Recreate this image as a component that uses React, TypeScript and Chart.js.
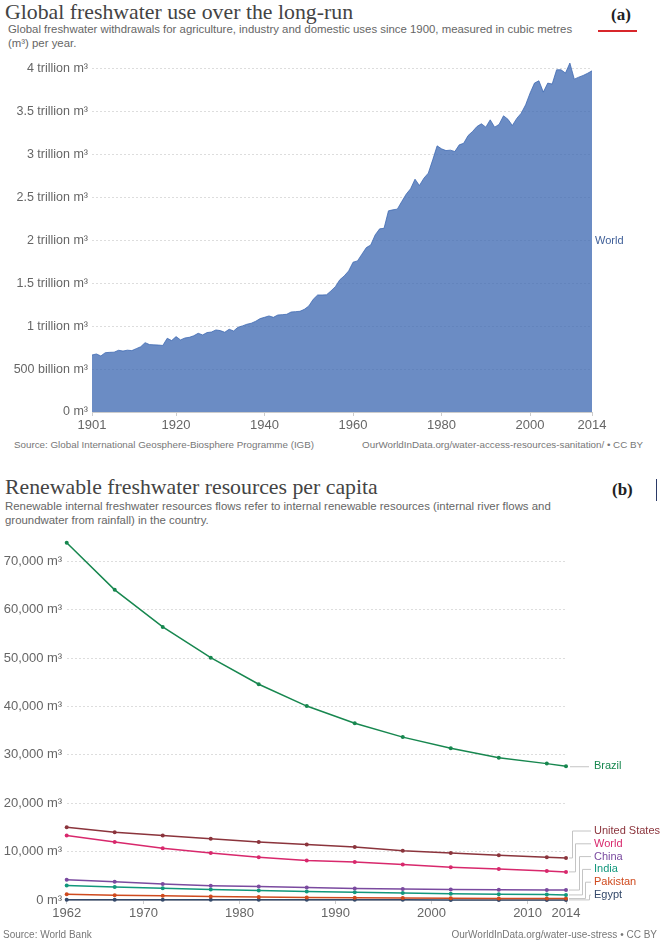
import React, { useEffect, useRef } from 'react';
import { Chart, registerables } from 'chart.js';

Chart.register(...registerables);

// ---------- Panel (a): Global freshwater withdrawals (trillion m³) ----------
const WITHDRAWAL_YEARS = [
  1901, 1902, 1903, 1904, 1905, 1906, 1907, 1908, 1909, 1910,
  1911, 1912, 1913, 1914, 1915, 1916, 1917, 1918, 1919, 1920,
  1921, 1922, 1923, 1924, 1925, 1926, 1927, 1928, 1929, 1930,
  1931, 1932, 1933, 1934, 1935, 1936, 1937, 1938, 1939, 1940,
  1941, 1942, 1943, 1944, 1945, 1946, 1947, 1948, 1949, 1950,
  1951, 1952, 1953, 1954, 1955, 1956, 1957, 1958, 1959, 1960,
  1961, 1962, 1963, 1964, 1965, 1966, 1967, 1968, 1969, 1970,
  1971, 1972, 1973, 1974, 1975, 1976, 1977, 1978, 1979, 1980,
  1981, 1982, 1983, 1984, 1985, 1986, 1987, 1988, 1989, 1990,
  1991, 1992, 1993, 1994, 1995, 1996, 1997, 1998, 1999, 2000,
  2001, 2002, 2003, 2004, 2005, 2006, 2007, 2008, 2009, 2010,
  2011, 2012, 2013, 2014,
];
const WITHDRAWAL_TRILLION_M3 = [
  0.664, 0.676, 0.653, 0.691, 0.695, 0.697, 0.719, 0.71, 0.72, 0.715,
  0.738, 0.76, 0.808, 0.785, 0.782, 0.78, 0.775, 0.859, 0.832, 0.878,
  0.84, 0.862, 0.87, 0.888, 0.917, 0.898, 0.925, 0.932, 0.956, 0.948,
  0.929, 0.964, 0.944, 0.987, 1.003, 1.022, 1.034, 1.057, 1.088, 1.103,
  1.119, 1.103, 1.13, 1.134, 1.138, 1.165, 1.169, 1.173, 1.196, 1.235,
  1.313, 1.363, 1.363, 1.365, 1.41, 1.46, 1.54, 1.585, 1.643, 1.745,
  1.76, 1.838, 1.915, 1.945, 2.063, 2.133, 2.14, 2.343, 2.355, 2.363,
  2.451, 2.537, 2.6, 2.712, 2.638, 2.723, 2.782, 2.937, 3.1, 3.065,
  3.045, 3.05, 3.034, 3.112, 3.13, 3.22, 3.267, 3.325, 3.357, 3.318,
  3.403, 3.318, 3.35, 3.45, 3.41, 3.337, 3.42, 3.48, 3.578, 3.714,
  3.831, 3.858, 3.726, 3.831, 3.82, 3.986, 3.986, 3.948, 4.064, 3.877,
  3.9, 3.92, 3.945, 3.974,
];
const WITHDRAWAL_X_TICKS = [1901, 1920, 1940, 1960, 1980, 2000, 2014];
const WITHDRAWAL_Y_TICKS = [0, 0.5, 1, 1.5, 2, 2.5, 3, 3.5, 4];
const WITHDRAWAL_SERIES_NAME = 'World';

// ---------- Panel (b): Renewable freshwater per capita (m³) ----------
const RESOURCE_YEARS = [1962, 1967, 1972, 1977, 1982, 1987, 1992, 1997, 2002, 2007, 2012, 2014];
const RESOURCE_X_TICKS = [1962, 1970, 1980, 1990, 2000, 2010, 2014];
const RESOURCE_Y_TICKS = [0, 10000, 20000, 30000, 40000, 50000, 60000, 70000];
const COUNTRY_NAMES = ['Brazil', 'United States', 'World', 'China', 'India', 'Pakistan', 'Egypt'];
const BRAZIL = [73860, 64130, 56470, 50100, 44620, 40100, 36550, 33680, 31360, 29430, 28200, 27660];
const UNITED_STATES = [15050, 14030, 13350, 12670, 11980, 11500, 10950, 10200, 9720, 9240, 8830, 8690];
const WORLD = [13350, 11980, 10680, 9720, 8830, 8150, 7870, 7330, 6780, 6430, 6020, 5810];
const CHINA = [4200, 3750, 3300, 2960, 2770, 2560, 2400, 2270, 2180, 2130, 2080, 2060];
const INDIA = [3000, 2690, 2420, 2170, 1950, 1750, 1580, 1430, 1310, 1210, 1130, 1050];
const PAKISTAN = [1170, 1005, 873, 743, 625, 524, 458, 407, 367, 335, 306, 292];
const EGYPT = [63, 56, 49, 43, 38, 33, 29, 27, 24, 22, 21, 20];
const COUNTRY_COLORS = ['#17874f', '#8b343c', '#d8286c', '#7a4a9f', '#12977c', '#cf4a1e', '#34496a'];

const SANS = 'Arial, "Liberation Sans", sans-serif';
const SERIF = '"Liberation Serif", "Times New Roman", serif';

const worldLabelPlugin = {
  id: 'worldLabel',
  afterDatasetsDraw(chart: any) {
    const { ctx, scales } = chart;
    const n = WITHDRAWAL_TRILLION_M3.length;
    const last = WITHDRAWAL_TRILLION_M3[n - 1];
    const px = scales.x.getPixelForValue(WITHDRAWAL_YEARS[n - 1]) + 3;
    const py = scales.y.getPixelForValue(last / 2);
    ctx.save();
    ctx.font = `11px ${SANS}`;
    ctx.fillStyle = '#3f5f98';
    ctx.textBaseline = 'middle';
    ctx.textAlign = 'left';
    ctx.fillText(WITHDRAWAL_SERIES_NAME, px, py);
    ctx.restore();
  },
};

const countryLabelPlugin = {
  id: 'countryLabels',
  afterDatasetsDraw(chart: any) {
    const { ctx, scales } = chart;
    const n = RESOURCE_YEARS.length;
    const xEnd = scales.x.getPixelForValue(RESOURCE_YEARS[n - 1]);
    const labelX = xEnd + 28;
    ctx.save();
    ctx.font = `11px ${SANS}`;
    ctx.textBaseline = 'middle';
    ctx.textAlign = 'left';
    ctx.lineWidth = 1;
    ctx.strokeStyle = '#c4c4c4';
    chart.data.datasets.forEach((ds: any, i: number) => {
      const yEnd = scales.y.getPixelForValue(ds.data[n - 1].y);
      if (i === 0) {
        ctx.beginPath();
        ctx.moveTo(xEnd + 4, yEnd + 0.5);
        ctx.lineTo(xEnd + 23, yEnd + 0.5);
        ctx.stroke();
        ctx.fillStyle = COUNTRY_COLORS[i];
        ctx.fillText(ds.label, labelX, yEnd);
        return;
      }
      const stackIndex = i - 1; // 0..5 top to bottom
      const bottomY = scales.y.getPixelForValue(0) - 5;
      const labelY = bottomY - (5 - stackIndex) * 12.8;
      const elbowX = Math.round(xEnd + 6 + stackIndex * 3.3) + 0.5;
      ctx.beginPath();
      ctx.moveTo(xEnd + 3, yEnd);
      ctx.lineTo(elbowX, yEnd);
      ctx.lineTo(elbowX, labelY);
      ctx.lineTo(xEnd + 25, labelY);
      ctx.stroke();
      ctx.fillStyle = COUNTRY_COLORS[i];
      ctx.fillText(ds.label, labelX, labelY);
    });
    ctx.restore();
  },
};

function WithdrawalChart() {
  const ref = useRef<HTMLCanvasElement>(null);
  useEffect(() => {
    if (!ref.current) return;
    const chart = new Chart(ref.current, {
      type: 'line',
      data: {
        datasets: [
          {
            label: WITHDRAWAL_SERIES_NAME,
            data: WITHDRAWAL_YEARS.map((yr, i) => ({ x: yr, y: WITHDRAWAL_TRILLION_M3[i] })),
            fill: 'origin',
            backgroundColor: 'rgba(58,102,176,0.75)',
            borderColor: 'rgba(58,102,176,0.75)',
            borderWidth: 1,
            pointRadius: 0,
            tension: 0,
          },
        ],
      },
      options: {
        responsive: false,
        animation: false,
        devicePixelRatio: 1,
        layout: { padding: { left: 0, right: 69, top: 60, bottom: 0 } },
        plugins: { legend: { display: false }, tooltip: { enabled: false } },
        scales: {
          x: {
            type: 'linear',
            min: 1901,
            max: 2014,
            afterBuildTicks: (s: any) => {
              s.ticks = WITHDRAWAL_X_TICKS.map((v) => ({ value: v }));
            },
            afterFit: (s: any) => {
              s.height = 48;
            },
            grid: { display: true, drawOnChartArea: false, drawTicks: true, tickLength: 4, color: '#cccccc' },
            border: { display: true, color: '#cccccc' },
            ticks: {
              color: '#666',
              font: { family: SANS, size: 13 },
              padding: 2,
              maxRotation: 0,
              autoSkip: false,
              callback: (v: any) => String(v),
            },
          },
          y: {
            min: 0,
            max: 4.1,
            afterBuildTicks: (s: any) => {
              s.ticks = WITHDRAWAL_Y_TICKS.map((v) => ({ value: v }));
            },
            afterFit: (s: any) => {
              s.width = 92;
            },
            grid: { color: '#dddddd', drawTicks: false },
            border: { display: false, dash: [2, 2] },
            ticks: {
              padding: 4,
              color: '#666',
              font: { family: SANS, size: 12.5 },
              callback: (v: any) => {
                const n = Number(v);
                if (n === 0) return '0 m³';
                if (n < 1) return `${Math.round(n * 1000)} billion m³`;
                return `${n} trillion m³`;
              },
            },
          },
        },
      },
      plugins: [worldLabelPlugin],
    } as any);
    return () => chart.destroy();
  }, []);
  return (
    <canvas
      ref={ref}
      width={661}
      height={460}
      style={{ position: 'absolute', left: 0, top: 0, width: 661, height: 460 }}
    />
  );
}

function ResourceChart() {
  const ref = useRef<HTMLCanvasElement>(null);
  useEffect(() => {
    if (!ref.current) return;
    const series = [BRAZIL, UNITED_STATES, WORLD, CHINA, INDIA, PAKISTAN, EGYPT];
    const chart = new Chart(ref.current, {
      type: 'line',
      data: {
        datasets: series.map((vals, i) => ({
          label: COUNTRY_NAMES[i],
          data: RESOURCE_YEARS.map((yr, j) => ({ x: yr, y: vals[j] })),
          borderColor: COUNTRY_COLORS[i],
          backgroundColor: COUNTRY_COLORS[i],
          pointBackgroundColor: COUNTRY_COLORS[i],
          pointBorderWidth: 0,
          pointRadius: 2,
          borderWidth: 1.5,
          tension: 0,
          fill: false,
          clip: false,
        })),
      },
      options: {
        responsive: false,
        animation: false,
        devicePixelRatio: 1,
        layout: { padding: { left: 0, right: 95, top: 9.6, bottom: 0 } },
        plugins: { legend: { display: false }, tooltip: { enabled: false } },
        scales: {
          x: {
            type: 'linear',
            min: 1962,
            max: 2014,
            afterBuildTicks: (s: any) => {
              s.ticks = RESOURCE_X_TICKS.map((v) => ({ value: v }));
            },
            afterFit: (s: any) => {
              s.height = 43;
            },
            grid: { display: true, drawOnChartArea: false, drawTicks: true, tickLength: 4, color: '#cccccc' },
            border: { display: true, color: '#cccccc' },
            ticks: {
              color: '#666',
              font: { family: SANS, size: 13 },
              padding: 2,
              maxRotation: 0,
              autoSkip: false,
              callback: (v: any) => String(v),
            },
          },
          y: {
            min: 0,
            max: 75000,
            afterBuildTicks: (s: any) => {
              s.ticks = RESOURCE_Y_TICKS.map((v) => ({ value: v }));
            },
            afterFit: (s: any) => {
              s.width = 66.7;
            },
            grid: { color: '#dddddd', drawTicks: false },
            border: { display: false, dash: [2, 2] },
            ticks: {
              padding: 4.5,
              color: '#666',
              font: { family: SANS, size: 13 },
              callback: (v: any) => `${Number(v).toLocaleString('en-US')} m³`,
            },
          },
        },
      },
      plugins: [countryLabelPlugin],
    } as any);
    return () => chart.destroy();
  }, []);
  return (
    <canvas
      ref={ref}
      width={661}
      height={418}
      style={{ position: 'absolute', left: 0, top: 525, width: 661, height: 418 }}
    />
  );
}

const abs = (style: React.CSSProperties): React.CSSProperties => ({
  position: 'absolute',
  whiteSpace: 'nowrap',
  margin: 0,
  ...style,
});

export default function App() {
  return (
    <div
      style={{
        position: 'absolute',
        left: 0,
        top: 0,
        width: 661,
        height: 943,
        background: '#fff',
        overflow: 'hidden',
        fontFamily: SANS,
      }}
    >
      {/* Panel (a) texts */}
      <div style={abs({ left: 5, top: 0, fontFamily: SERIF, fontSize: 21.8, lineHeight: '25px', color: '#444' })}>
        Global freshwater use over the long-run
      </div>
      <div style={abs({ left: 8, top: 23, fontSize: 11.4, lineHeight: '13.5px', color: '#666' })}>
        Global freshwater withdrawals for agriculture, industry and domestic uses since 1900, measured in cubic metres
        <br />
        (m³) per year.
      </div>
      <div style={abs({ left: 611, top: 5, fontFamily: SERIF, fontWeight: 'bold', fontSize: 17, lineHeight: '20px', color: '#222' })}>
        (a)
      </div>
      <div style={abs({ left: 598, top: 30, width: 39, height: 2, background: '#d8262b' })} />
      <div style={abs({ left: 14, top: 438, fontSize: 9.8, lineHeight: '14px', color: '#777' })}>
        Source: Global International Geosphere-Biosphere Programme (IGB)
      </div>
      <div style={abs({ right: 18, top: 438, fontSize: 9.8, lineHeight: '14px', color: '#777' })}>
        OurWorldInData.org/water-access-resources-sanitation/ • CC BY
      </div>
      <WithdrawalChart />

      {/* Panel (b) texts */}
      <div style={abs({ left: 5, top: 475, fontFamily: SERIF, fontSize: 21.8, lineHeight: '25px', color: '#444' })}>
        Renewable freshwater resources per capita
      </div>
      <div style={abs({ left: 5, top: 499, fontSize: 11.4, lineHeight: '14px', color: '#666' })}>
        Renewable internal freshwater resources flows refer to internal renewable resources (internal river flows and
        <br />
        groundwater from rainfall) in the country.
      </div>
      <div style={abs({ left: 612, top: 480, fontFamily: SERIF, fontWeight: 'bold', fontSize: 17, lineHeight: '20px', color: '#222' })}>
        (b)
      </div>
      <div style={abs({ left: 656, top: 479, width: 1, height: 22, background: '#2b3a67' })} />
      <ResourceChart />
      <div style={abs({ left: 3, top: 928, fontSize: 10, lineHeight: '14px', color: '#777' })}>
        Source: World Bank
      </div>
      <div style={abs({ right: 4, top: 928, fontSize: 10, lineHeight: '14px', color: '#777' })}>
        OurWorldInData.org/water-use-stress • CC BY
      </div>
    </div>
  );
}
